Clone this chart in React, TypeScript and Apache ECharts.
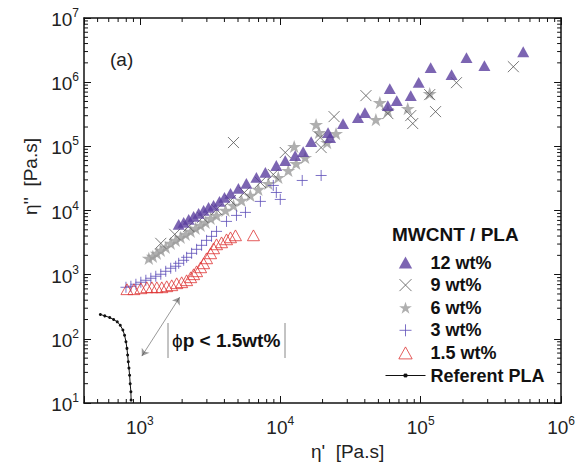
import React, { useEffect, useRef } from 'react';
import * as echarts from 'echarts';

// ---------- data (eta', eta'') ----------
const wt12: number[][] = [
  [1890, 6081], [2051, 6530], [2227, 7273], [2415, 8096], [2620, 9016], [2844, 10040], [3084, 11180],
  [3349, 12000], [3690, 13860], [4005, 15990], [4420, 18460], [5032, 22080], [5736, 26390], [6761, 32720],
  [7833, 39160], [9370, 50250], [10850, 60080], [12760, 71890], [14550, 82970], [16590, 118800],
  [21890, 164100], [22630, 137100], [27990, 226400], [35750, 280700], [40080, 335600], [58360, 431400],
  [60250, 792900], [67570, 516600], [84950, 618200], [96790, 989000], [117800, 1685000], [166000, 1312000],
  [211900, 2405000], [284300, 1807000], [537300, 2980000],
];
const wt9: number[][] = [
  [1409, 3077], [1771, 4249], [2227, 5659], [2797, 7822], [3516, 10400], [4420, 14360], [5553, 19090],
  [7218, 27350], [8918, 36400], [4643, 114500], [10850, 80100], [19240, 137100], [19540, 95700],
  [24160, 290600], [40740, 617000], [58360, 323600], [84950, 301300], [87770, 226400], [115900, 639700],
  [127600, 347500], [179800, 982000], [457100, 1742000],
];
const wt6: number[][] = [
  [1158, 1798], [1237, 1933], [1320, 2152], [1409, 2395], [1528, 2666], [1658, 3077], [1799, 3427],
  [1952, 3816], [2118, 4249], [2301, 4730], [2494, 5267], [2708, 5865], [2938, 6530], [3189, 7536],
  [3516, 8386], [4073, 10040], [4643, 12000], [5289, 14360], [6119, 17170], [6979, 21290], [8222, 26390],
  [9682, 32720], [11400, 42040], [12980, 54030], [15030, 66970], [12560, 99370], [17990, 218400],
  [18910, 164100], [21540, 114500], [24950, 158200], [47960, 261300], [51170, 479800], [58360, 360300],
  [80870, 387800], [115900, 662600],
];
const wt3: number[][] = [
  [796, 636], [863, 660], [937, 709], [1016, 762], [1103, 818], [1197, 879], [1298, 945], [1409, 1015],
  [1528, 1129], [1658, 1259], [1799, 1353], [1890, 1504], [2051, 1675], [2153, 1866], [2336, 2152],
  [2535, 2485], [2751, 2866], [2985, 3427], [3239, 3955], [3516, 4730], [4141, 6764], [4875, 8386],
  [5649, 9340], [7218, 13860], [8918, 24570], [9370, 19090], [10000, 14880], [14330, 29380], [19540, 35130],
];
const wt15: number[][] = [
  [809, 593], [907, 593], [1016, 614], [1121, 636], [1217, 636], [1320, 636], [1432, 636], [1553, 660],
  [1686, 684], [1829, 735], [1984, 762], [2153, 818], [2301, 911], [2415, 1015], [2535, 1129], [2708, 1303],
  [2844, 1504], [2985, 1798], [3189, 2152], [3349, 2575], [3516, 2973], [3816, 3192], [4141, 3554],
  [4420, 3819], [4796, 4102], [6440, 4102],
];
const referentPLA: number[][] = [
  [523, 240], [562, 228], [610, 215], [650, 200], [690, 184], [725, 163], [757, 137], [778, 114],
  [796, 90], [809, 71], [818, 56], [827, 44], [836, 35], [845, 27], [853, 20], [863, 15], [866, 11.1],
];
// annotation arrow end points (data coords)
const arrowEnds: number[][] = [[1033, 53.8], [1921, 445]];

const seriesNames = ['12 wt%', '9 wt%', '6 wt%', '3 wt%', '1.5 wt%', 'Referent PLA'];
const xRange = [400, 1e6];
const yRange = [10, 1e7];
const minorMultipliers = [2, 3, 4, 5, 6, 7, 8, 9];

const FONT = 'Liberation Sans, Arial, sans-serif';
const STAR = 'path://M50,0L61.8,35.1L98.9,35.1L68.8,56.9L80.2,92.1L50,70.3L19.8,92.1L31.2,56.9L1.1,35.1L38.2,35.1Z';
const CROSS = 'path://M0,0L10,10M10,0L0,10';
const PLUS = 'path://M5,0L5,10M0,5L10,5';
const TRI = 'path://M5,0L10,9L0,9Z';
const LINE_DOT = 'path://M0,6L40,6M18.6,4.6L21.4,4.6L21.4,7.4L18.6,7.4Z';

function minorValues(lo: number, hi: number): number[] {
  const out: number[] = [];
  for (let e = Math.floor(Math.log10(lo)); e < Math.ceil(Math.log10(hi)); e++) {
    for (const m of minorMultipliers) {
      const v = m * Math.pow(10, e);
      if (v > lo && v < hi) out.push(v);
    }
  }
  return out;
}

const powLabel = (v: number) => {
  const l = Math.log10(v);
  const e = Math.round(l);
  if (Math.abs(l - e) > 1e-6) return '';
  return `{b|10}{s|${e}}`;
};

const labelRich = {
  b: { fontSize: 19, fontFamily: FONT, color: '#222', lineHeight: 22, verticalAlign: 'bottom' },
  s: { fontSize: 12, fontFamily: FONT, color: '#222', lineHeight: 22, verticalAlign: 'top', padding: [0, 0, 10, 0] },
};

const axisLineStyle = { color: '#111', width: 1.5 };

export default function App() {
  const ref = useRef<HTMLDivElement>(null);
  useEffect(() => {
    if (!ref.current) return;
    const chart = echarts.init(ref.current, undefined, { renderer: 'svg' });
    const minorX = minorValues(xRange[0], xRange[1]);
    const minorY = minorValues(yRange[0], yRange[1]);
    const tickStyle = { stroke: '#111', lineWidth: 1 };

    const option: any = {
      animation: false,
      backgroundColor: '#fff',
      grid: { left: 84, right: 15, top: 18, bottom: 64 },
      xAxis: [
        {
          type: 'log', logBase: 10, min: xRange[0], max: xRange[1], position: 'bottom',
          axisLine: { show: true, lineStyle: axisLineStyle },
          axisTick: { show: true, inside: true, length: 7, lineStyle: { color: '#111', width: 1 } },
          axisLabel: { formatter: powLabel, rich: labelRich, margin: 12 },
          splitLine: { show: false },
          name: "η'  [Pa.s]", nameLocation: 'middle', nameGap: 30,
          nameTextStyle: { fontSize: 19, fontFamily: FONT, color: '#222', padding: [0, 0, 0, 50] },
        },
        {
          type: 'log', logBase: 10, min: xRange[0], max: xRange[1], position: 'top',
          axisLine: { show: true, lineStyle: axisLineStyle },
          axisTick: { show: true, inside: true, length: 7, lineStyle: { color: '#111', width: 1 } },
          axisLabel: { show: false }, splitLine: { show: false },
        },
      ],
      yAxis: [
        {
          type: 'log', logBase: 10, min: yRange[0], max: yRange[1], position: 'left',
          axisLine: { show: true, lineStyle: axisLineStyle },
          axisTick: { show: true, inside: true, length: 7, lineStyle: { color: '#111', width: 1 } },
          axisLabel: { formatter: powLabel, rich: labelRich, margin: 5 },
          splitLine: { show: false },
          name: "η''  [Pa.s]", nameLocation: 'middle', nameGap: 44, nameRotate: 90,
          nameTextStyle: { fontSize: 19, fontFamily: FONT, color: '#222', padding: [0, 0, 0, 68] },
        },
        {
          type: 'log', logBase: 10, min: yRange[0], max: yRange[1], position: 'right',
          axisLine: { show: true, lineStyle: axisLineStyle },
          axisTick: { show: true, inside: true, length: 7, lineStyle: { color: '#111', width: 1 } },
          axisLabel: { show: false }, splitLine: { show: false },
        },
      ],
      legend: {
        data: seriesNames.map((n) => (n === 'Referent PLA'
          ? { name: n, icon: LINE_DOT, itemStyle: { color: '#111', borderColor: '#111', borderWidth: 1 } }
          : { name: n })),
        orient: 'vertical',
        left: 380, top: 247.5,
        itemWidth: 40, itemHeight: 12, itemGap: 2.6,
        symbolKeepAspect: true,
        itemStyle: { borderWidth: 1 },
        textStyle: { fontSize: 18, fontWeight: 'bold', fontFamily: FONT, color: '#111', lineHeight: 20 },
      },
      graphic: [
        { type: 'text', left: 110, top: 50, style: { text: '(a)', fontSize: 19, fontFamily: FONT, fill: '#222' } },
        { type: 'text', left: 392, top: 225, style: { text: 'MWCNT / PLA', fontSize: 19, fontWeight: 'bold', fontFamily: FONT, fill: '#111' } },
        {
          type: 'text', left: 172, top: 331,
          style: {
            text: '{a|ϕ}{b|p < 1.5wt%}',
            rich: {
              a: { fontSize: 19, fontFamily: FONT, fill: '#111' },
              b: { fontSize: 19, fontWeight: 'bold', fontFamily: FONT, fill: '#111' },
            },
          },
        },
        { type: 'line', shape: { x1: 168, y1: 323, x2: 168, y2: 358 }, style: { stroke: '#888', lineWidth: 1 } },
        { type: 'line', shape: { x1: 285, y1: 323, x2: 285, y2: 358 }, style: { stroke: '#888', lineWidth: 1 } },
      ],
      series: [
        {
          name: '12 wt%', type: 'scatter', data: wt12, symbol: TRI, symbolSize: 12, symbolKeepAspect: true,
          itemStyle: { color: '#5b3f9f' }, z: 5,
        },
        {
          name: '9 wt%', type: 'scatter', data: wt9, symbol: CROSS, symbolSize: 11, symbolKeepAspect: true,
          itemStyle: { color: 'rgba(0,0,0,0)', borderColor: '#555', borderWidth: 1 }, z: 4,
        },
        {
          name: '6 wt%', type: 'scatter', data: wt6, symbol: STAR, symbolSize: 14, symbolKeepAspect: true,
          itemStyle: { color: '#9b9b9b' }, z: 3,
        },
        {
          name: '3 wt%', type: 'scatter', data: wt3, symbol: PLUS, symbolSize: 11, symbolKeepAspect: true,
          itemStyle: { color: 'rgba(0,0,0,0)', borderColor: '#5d4db8', borderWidth: 1 }, z: 3,
        },
        {
          name: '1.5 wt%', type: 'scatter', data: wt15, symbol: TRI, symbolSize: 12, symbolKeepAspect: true,
          itemStyle: { color: 'rgba(255,255,255,0)', borderColor: '#dd3333', borderWidth: 1 }, z: 3,
        },
        {
          name: 'Referent PLA', type: 'line', data: referentPLA, symbol: 'circle', symbolSize: 3,
          showSymbol: true, lineStyle: { color: '#111', width: 1 }, itemStyle: { color: '#111' }, z: 3,
        },
        {
          type: 'lines', coordinateSystem: 'cartesian2d', silent: true,
          data: [{ coords: arrowEnds }],
          symbol: ['arrow', 'arrow'], symbolSize: 7,
          lineStyle: { color: '#333', width: 1 },
        },
        {
          type: 'custom', silent: true, data: minorX.map((v) => [v, yRange[0]]), clip: false, z: 10,
          renderItem: (params: any, api: any) => {
            const cs = params.coordSys;
            const x = api.coord([api.value(0), yRange[0]])[0];
            return {
              type: 'group', children: [
                { type: 'line', shape: { x1: x, y1: cs.y + cs.height, x2: x, y2: cs.y + cs.height - 4 }, style: tickStyle },
                { type: 'line', shape: { x1: x, y1: cs.y, x2: x, y2: cs.y + 4 }, style: tickStyle },
              ],
            };
          },
        },
        {
          type: 'custom', silent: true, data: minorY.map((v) => [xRange[0], v]), clip: false, z: 10,
          renderItem: (params: any, api: any) => {
            const cs = params.coordSys;
            const y = api.coord([xRange[0], api.value(1)])[1];
            return {
              type: 'group', children: [
                { type: 'line', shape: { x1: cs.x, y1: y, x2: cs.x + 4, y2: y }, style: tickStyle },
                { type: 'line', shape: { x1: cs.x + cs.width, y1: y, x2: cs.x + cs.width - 4, y2: y }, style: tickStyle },
              ],
            };
          },
        },
      ],
    };
    chart.setOption(option);
    return () => chart.dispose();
  }, []);
  return <div ref={ref} style={{ position: 'absolute', left: 0, top: 0, width: 578, height: 467, background: '#fff' }} />;
}
